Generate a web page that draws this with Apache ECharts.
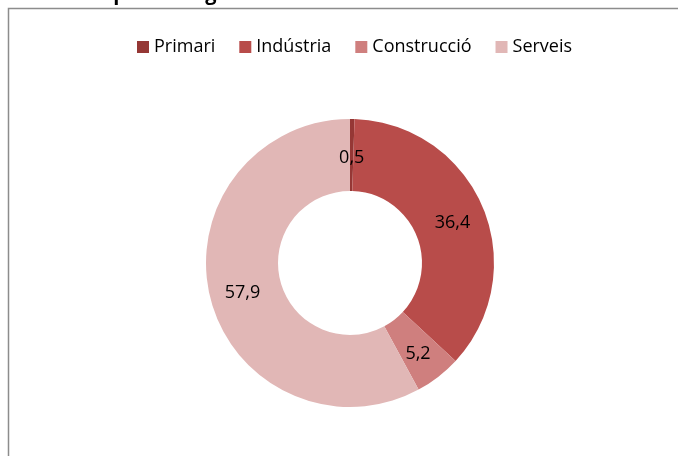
<!DOCTYPE html>
<html>
<head>
<meta charset="utf-8">
<script src="https://cdn.jsdelivr.net/npm/echarts@6/dist/echarts.min.js"></script>
<style>
  html, body { margin: 0; padding: 0; background: #fff; }
  #chart { width: 678px; height: 456px; }
</style>
</head>
<body>
<div id="chart"></div>
<script>
// Sector shares (%)
const categories = ['Primari', 'Indústria', 'Construcció', 'Serveis'];
const values = [0.5, 36.4, 5.2, 57.9];
const colors = ['#953735', '#B84C4A', '#CF7F7E', '#E1B7B6'];

const chart = echarts.init(document.getElementById('chart'), null, { renderer: 'canvas' });

const fmt = v => v.toFixed(1).replace('.', ',');

chart.setOption({
  animation: false,
  backgroundColor: '#ffffff',
  title: {
    text: "Gràfic 4. Empreses segons el sector d'activitat de l'establiment. 2011",
    left: -10,
    top: -21,
    textStyle: { fontFamily: 'Open Sans', fontWeight: 'bold', fontSize: 20, color: '#000' }
  },
  graphic: [{
    type: 'rect',
    shape: { x: 8.5, y: 8.5, width: 700, height: 500 },
    style: { fill: 'none', stroke: '#8c8c8c', lineWidth: 1.5 },
    silent: true
  }],
  legend: {
    data: categories,
    top: 33,
    left: 132,
    itemWidth: 12,
    itemHeight: 12,
    itemGap: 24,
    icon: 'rect',
    textStyle: { fontFamily: 'Open Sans', fontSize: 18, color: '#000' }
  },
  series: [{
    type: 'pie',
    center: [350, 263],
    radius: [72, 144],
    startAngle: 90,
    clockwise: true,
    avoidLabelOverlap: false,
    label: {
      show: true,
      position: 'inside',
      formatter: p => fmt(p.value),
      fontFamily: 'Open Sans',
      fontSize: 18,
      color: '#000',
      offset: [0, 3]
    },
    labelLine: { show: false },
    itemStyle: { borderWidth: 0 },
    data: categories.map((c, i) => ({
      name: c,
      value: values[i],
      itemStyle: { color: colors[i] },
      label: i === 0 ? { offset: [0, 6] } : undefined
    }))
  }]
});
</script>
</body>
</html>
